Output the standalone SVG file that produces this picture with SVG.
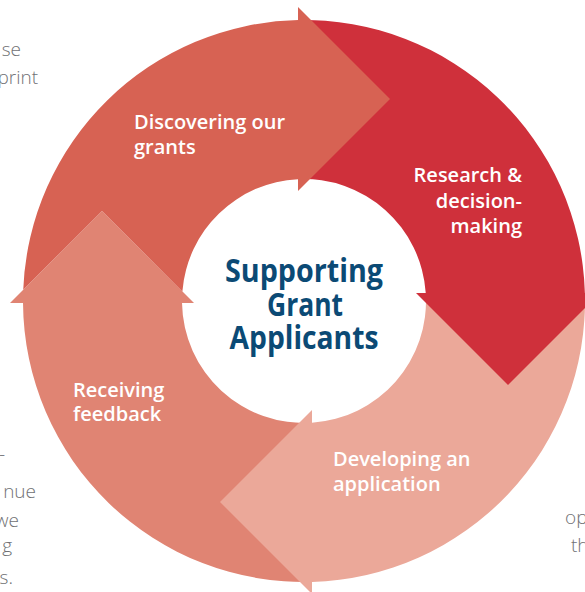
<svg xmlns="http://www.w3.org/2000/svg" width="585" height="592" viewBox="0 0 585 592">
<style>
.lbl{font-family:"Open Sans","Noto Sans",sans-serif;font-weight:600;font-size:20px;fill:#ffffff}
.ttl{font-family:"Open Sans","Noto Sans",sans-serif;font-weight:700;font-size:32px;fill:#0b4a75;text-anchor:middle}
.bg{font-family:"Open Sans","Noto Sans",sans-serif;font-weight:300;font-size:19px;fill:#707174}
.c1{fill:#d76253}.c2{fill:#cf303b}.c3{fill:#eba899}.c4{fill:#e08473}
</style>
<rect width="585" height="592" fill="#ffffff"/>
<g id="background-text">
<text class="bg" x="21" y="56" text-anchor="end">se</text>
<text class="bg" x="38" y="84" text-anchor="end">print</text>
<text class="bg" x="5" y="461" text-anchor="end">-</text>
<text class="bg" x="36" y="498" text-anchor="end">nue</text>
<text class="bg" x="19" y="527" text-anchor="end">we</text>
<text class="bg" x="12" y="552" text-anchor="end">g</text>
<text class="bg" x="13" y="584" text-anchor="end">s.</text>
<text class="bg" x="565" y="524">op</text>
<text class="bg" x="571" y="552">th</text>
</g>
<g id="receiving-feedback">
<path class="c4" d="M312,581.89 A281,281 0 0 1 23.01,303 L182.02,303 A122,122 0 0 0 312,422.74 Z"/>
<polygon class="c4" points="10,303 102,211 194,303"/>
<text class="lbl" x="73" y="397">Receiving</text>
<text class="lbl" x="73" y="421">feedback</text>
</g>
<g id="developing-application">
<path class="c3" d="M584.89,293 A281,281 0 0 1 312,581.89 L312,422.74 A122,122 0 0 0 425.74,293 Z"/>
<polygon class="c3" points="312,410 220,502 312,594"/>
<text class="lbl" x="333" y="466">Developing an</text>
<text class="lbl" x="333" y="491">application</text>
</g>
<g id="research-decision">
<path class="c2" d="M298,20.06 A281,281 0 0 1 584.89,293 L425.74,293 A122,122 0 0 0 298,179.15 Z"/>
<polygon class="c2" points="416,293 508,385 600,293"/>
<text class="lbl" x="522" y="182" text-anchor="end">Research &amp;</text>
<text class="lbl" x="522" y="207.5" text-anchor="end">decision-</text>
<text class="lbl" x="522" y="233" text-anchor="end">making</text>
</g>
<g id="discovering-grants">
<path class="c1" d="M23.22,289.78 A281,281 0 0 1 298,20.06 L298,179.15 A122,122 0 0 0 182.38,291.38 L102,211 Z"/>
<polygon class="c1" points="298,7 390,99 298,191"/>
<text class="lbl" x="134" y="129">Discovering our</text>
<text class="lbl" x="134" y="154">grants</text>
</g>
<g id="center-title">
<text class="ttl" x="304" y="282" textLength="158" lengthAdjust="spacingAndGlyphs">Supporting</text>
<text class="ttl" x="305" y="316" textLength="76" lengthAdjust="spacingAndGlyphs">Grant</text>
<text class="ttl" x="304" y="349" textLength="149" lengthAdjust="spacingAndGlyphs">Applicants</text>
</g>
<g id="connectors"></g>
</svg>
